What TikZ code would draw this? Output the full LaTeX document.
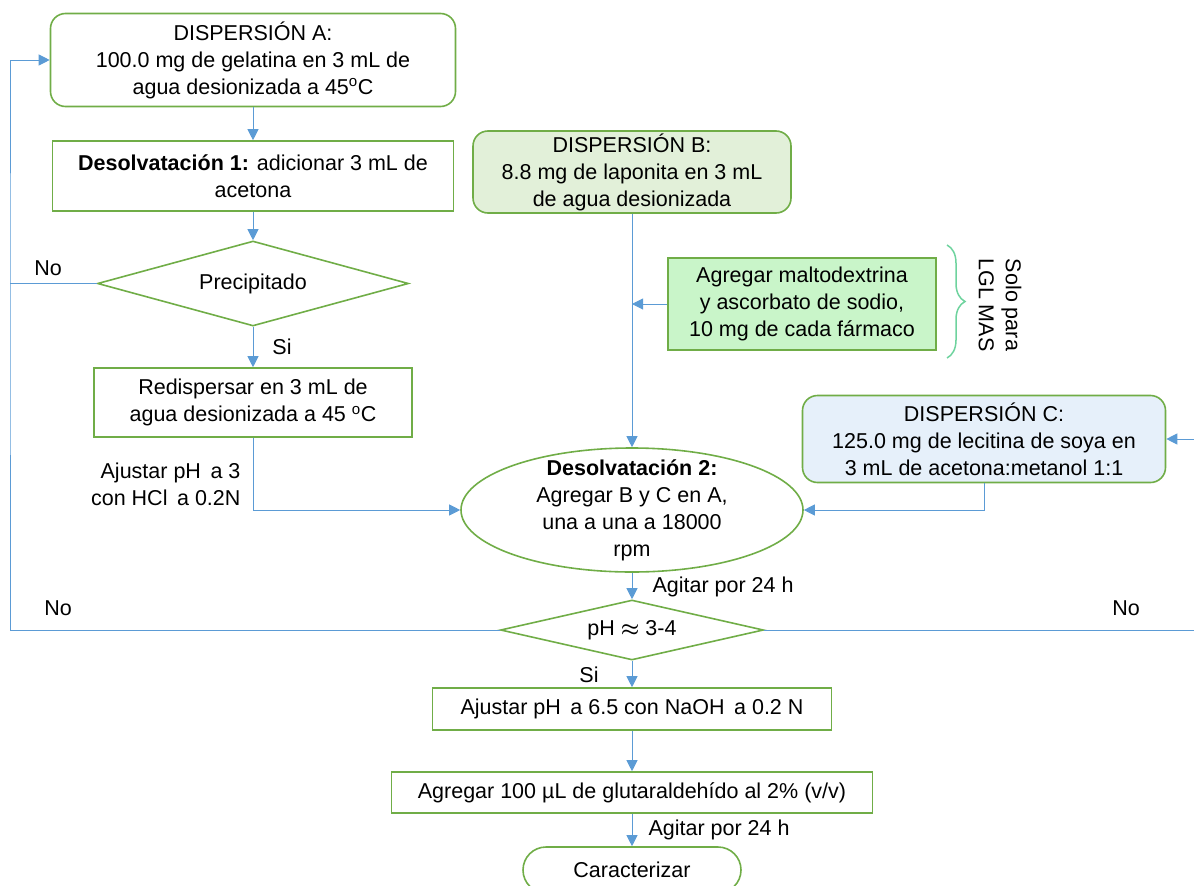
\documentclass[tikz,border=0pt]{standalone}
\usepackage{amsmath}
\usepackage{fontspec}
\setmainfont{Liberation Sans}
\usetikzlibrary{shapes.geometric,decorations.pathreplacing,arrows.meta}
\definecolor{boxgreen}{HTML}{70AD47}
\definecolor{flowblue}{HTML}{5B9BD5}
\definecolor{fillB}{HTML}{E2F0D9}
\definecolor{fillM}{HTML}{C9F5C9}
\definecolor{fillC}{HTML}{E6F0FA}
\definecolor{bracegreen}{HTML}{6ED39E}
\begin{document}
\begin{tikzpicture}[x = 1pt, y = -1pt,
	font = \fontsize{21.5}{27}\selectfont,
	box/.style = {draw = boxgreen, line width = 1.6pt, align = center, inner sep = 2pt},
	rbox/.style = {box, rounded corners = 15pt},
	choice/.style = {draw = boxgreen, line width = 1.6pt, diamond, inner sep = 0pt},
	flow/.style = {draw = flowblue, line width = 1pt, -{Triangle[length = 11pt, width = 11pt]}},
	link/.style = {draw = flowblue, line width = 1pt}]
	\useasboundingbox (0, 0) rectangle (1194, 886);
	\clip (0, 0) rectangle (1194, 886);
	% left column
	\node [rbox, minimum width = 405, minimum height = 93] (dispA) at (253, 60) {DISPERSIÓN A:\\100.0 mg de gelatina en 3 mL de\\agua desionizada a 45\textsuperscript{o}C};
	\node [box, minimum width = 401, minimum height = 70] (desolA) at (253, 176) {\textbf{Desolvatación 1:} adicionar 3 mL de\\acetona};
	\node [choice, minimum width = 311, minimum height = 85, aspect = 3.66] (prec) at (253, 283.5) {Precipitado};
	\node [box, minimum width = 318, minimum height = 69] (redis) at (253, 402.5) {Redispersar en 3 mL de\\agua desionizada a 45 \textsuperscript{o}C};
	% center column
	\node [rbox, fill = fillB, minimum width = 318, minimum height = 82] (dispB) at (632, 172) {DISPERSIÓN B:\\8.8 mg de laponita en 3 mL\\de agua desionizada};
	\node [box, fill = fillM, minimum width = 268, minimum height = 92] (maltod) at (802, 304) {Agregar maltodextrina\\y ascorbato de sodio,\\10 mg de cada fármaco};
	\node [rbox, fill = fillC, minimum width = 363, minimum height = 87] (dispC) at (984, 439) {DISPERSIÓN C:\\125.0 mg de lecitina de soya en\\3 mL de acetona:metanol 1:1};
	\node [ellipse, draw = boxgreen, line width = 1.6pt, align = center, inner sep = -22pt, minimum width = 342, minimum height = 124] (desolB) at (632, 510) {\textbf{Desolvatación 2:}\\Agregar B y C en A,\\una a una a 18000\\rpm};
	\node [choice, minimum width = 263, minimum height = 60, aspect = 4.4] (ph) at (632, 630) {pH $\boldsymbol{\approx}$ 3-4};
	\node [box, minimum width = 399, minimum height = 42] (ajNaOH) at (632, 709) {Ajustar pH \,a 6.5 con NaOH \,a 0.2 N};
	\node [box, minimum width = 481, minimum height = 41] (glut) at (632, 792.5) {Agregar 100 µL de glutaraldehído al 2\% (v/v)};
	\node [box, rounded corners = 23pt, minimum width = 218, minimum height = 46] (caract) at (632, 870) {Caracterizar};
	% brace
	\draw [bracegreen, line width = 1.5pt, decorate, decoration = {brace, amplitude = 18pt}] (947, 245) -- (947, 358);
	\node [rotate = -90, align = center] (solo) at (1000, 305) {Solo para\\LGL MAS};
	% labels
	\node (noA) at (48, 268) {No};
	\node (siA) at (282, 347) {Si};
	\node [anchor = east, align = right] (hcl) at (244, 484) {Ajustar pH \,a 3\\con HCl \,a 0.2N};
	\node (noL) at (58, 608) {No};
	\node (noR) at (1126, 608) {No};
	\node [anchor = west] (agit1) at (649, 587) {Agitar por 24 h};
	\node (siB) at (589, 675) {Si};
	\node [anchor = west] (agit2) at (645, 830) {Agitar por 24 h};
	% connectors
	\coordinate (lx) at (10, 0);
	\coordinate (rx) at (1210, 0);
	\draw [flow] (dispA) -- (desolA);
	\draw [flow] (desolA) -- (prec);
	\draw [flow] (prec) -- (redis);
	\draw [link] (prec.west) -- (prec.west -| lx);
	\draw [flow] (ph.west) -| (prec.west -| lx) |- (dispA.west);
	\draw [flow] (redis.south) |- (desolB.west);
	\draw [flow] (dispB) -- (desolB);
	\draw [flow] (maltod.west) -- (maltod.west -| dispB.south);
	\draw [flow] (dispC.south) |- (desolB.east);
	\draw [flow] (ph.east) -| (rx |- dispC.east) -- (dispC.east);
	\draw [flow] (desolB) -- (ph);
	\draw [flow] (ph) -- (ajNaOH);
	\draw [flow] (ajNaOH) -- (glut);
	\draw [flow] (glut) -- (caract);
\end{tikzpicture}
\end{document}
